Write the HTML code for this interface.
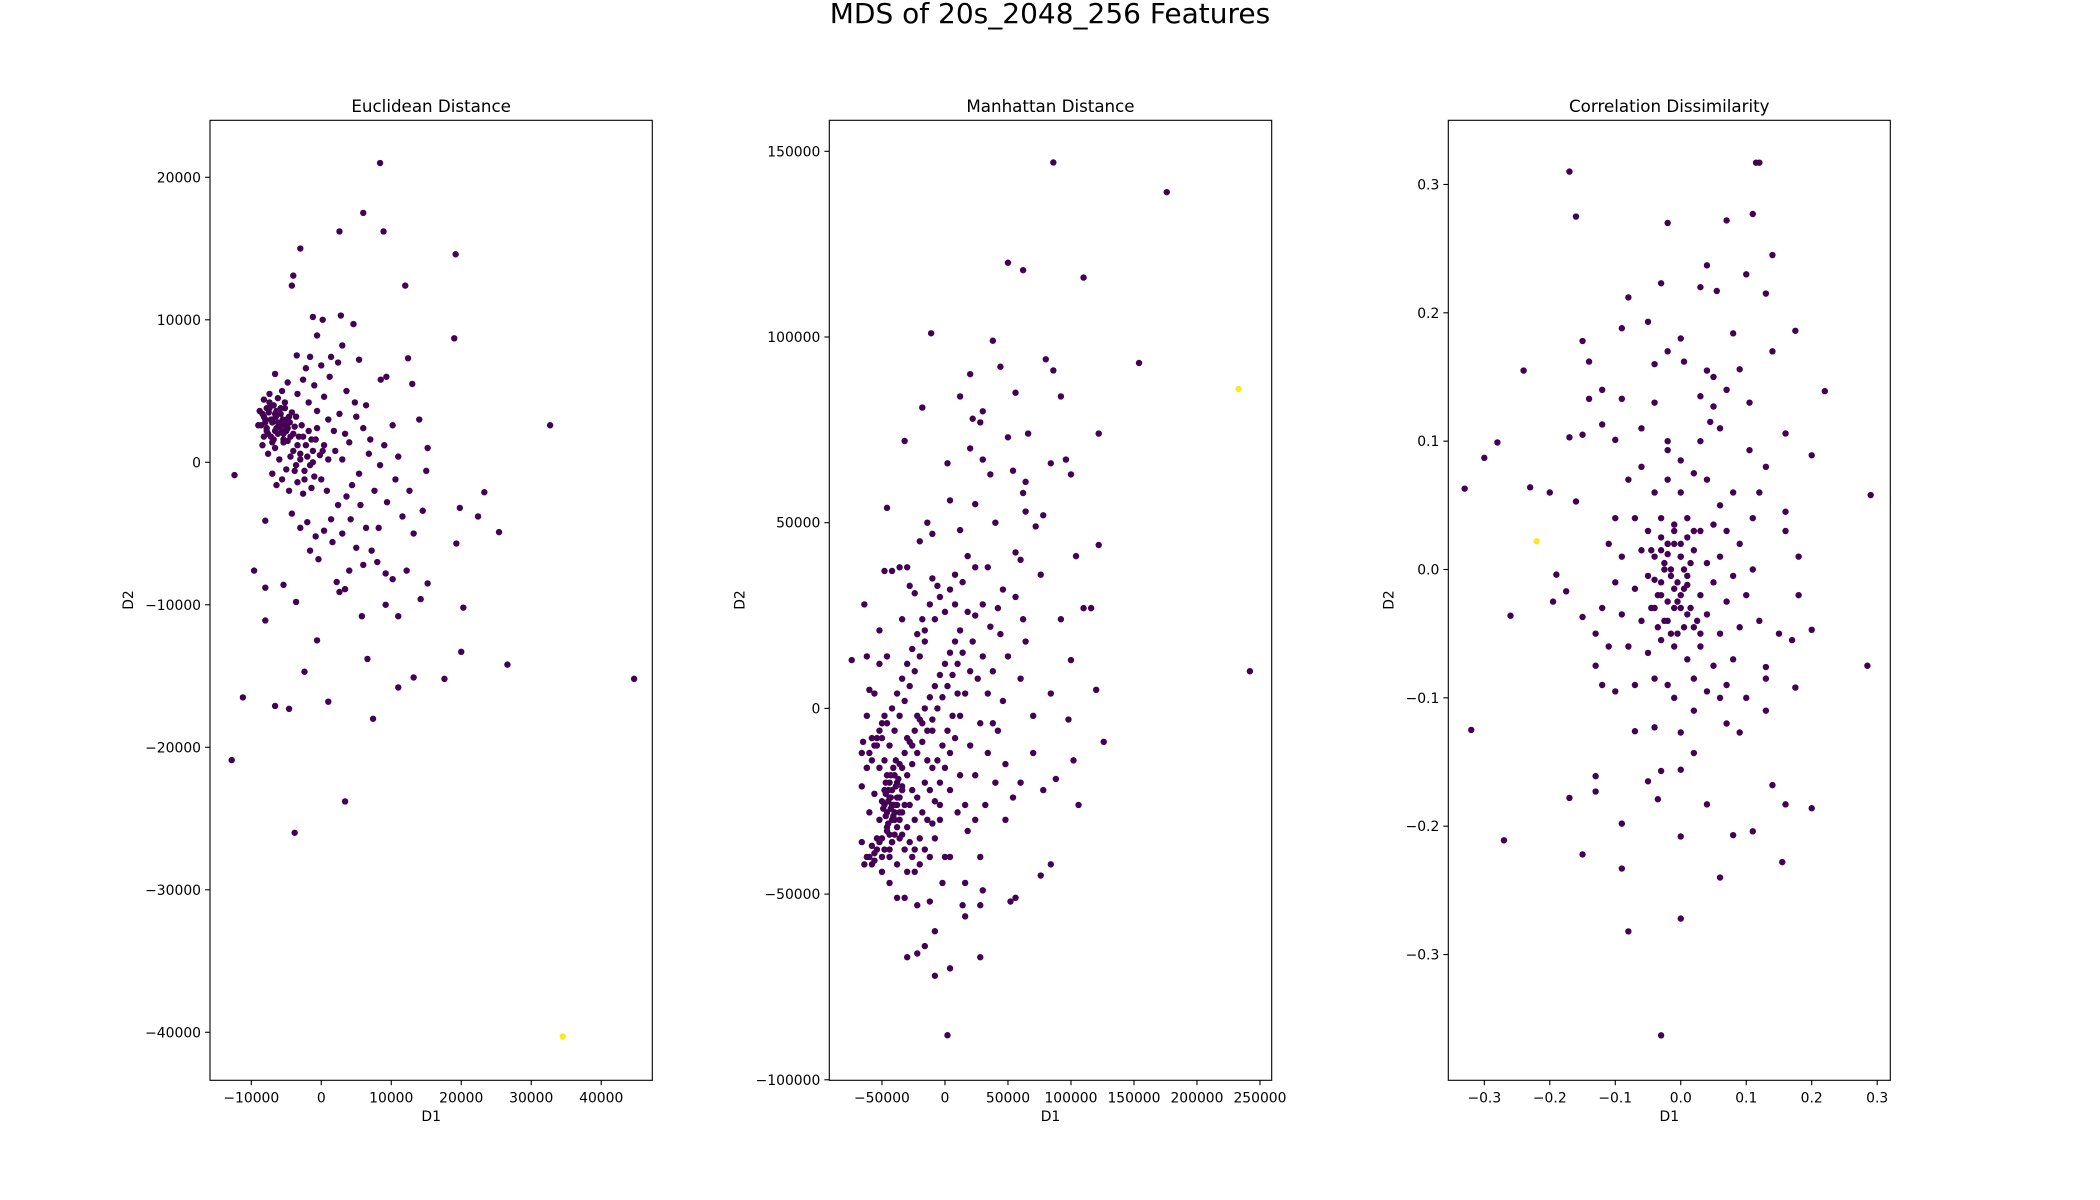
<!DOCTYPE html>
<html><head><meta charset="utf-8"><style>
html,body{margin:0;padding:0;background:#fff;}
svg{display:block;font-family:"DejaVu Sans","Liberation Sans",sans-serif;}
</style></head><body>
<svg id="fig" width="2100" height="1200" viewBox="0 0 2100 1200" xmlns="http://www.w3.org/2000/svg">
<rect width="2100" height="1200" fill="#fff"/>
<text x="1050" y="23" font-size="28" text-anchor="middle">MDS of 20s_2048_256 Features</text>
</svg>
<script>
// Euclidean (thousands)
const eucX=[8.4,6,2.6,8.9,-3,19.2,-4,-4.2,12,-1.2,2.8,0.2,4.6,-0.6,19,-3.5,-1.6,1.4,5.4,12.4,8.5,9.3,13,-6.6,32.7,14,15.2,11,15,-12.4,23.3,19.8,22.4,25.4,14.5,19.3,-8,-9.6,-8,-5.4,-3.6,9.2,10.2,12.2,14.2,15.2,20.3,-8,-0.6,3.4,2.6,9.2,11,5.8,20,26.6,44.7,6.6,-2.4,13.2,11,17.6,-11.2,-6.6,-4.6,1,7.4,-12.8,3.4,-3.8,
-8,-7.5,-7,-6.5,-6,-5.5,-5,-4.5,-4,-7.8,-7.2,-6.8,-6.2,-5.8,-5.2,-4.8,-4.2,-3.8,-3.2,-2.8,-2.2,-1.8,-1.2,-0.8,-0.2,0.4,1,-8.4,-7.6,-6.6,-6,-5.4,-5,-4.4,-3.6,-3,-2.4,-1.6,-1,-7,-6.4,-5.6,-4.6,-3.4,-2.6,-1.4,0,0.8,-5.6,-4.8,-3.4,-2.6,-1.8,-0.6,0.4,1,1.8,2.6,3.4,2,3,4,5,6,6.8,5.4,4.4,3.6,2.4,1.4,0.4,-0.8,-2,-3,-4.2,-1.6,-0.4,1.6,3,4.2,5.6,6.4,7.2,8.2,9.4,10.6,9,10.2,7.6,5,6,8,4,2.2,1.2,2.4,3.6,4.8,6.4,7,8.4,11.6,12.6,13.2,-2.2,-1,0,3,-8.8,-9,-8.2,-7.4,-6.4,-5.2,-4.4,-3.6,
-8.6,-8.2,-7.8,-7.4,-7,-6.6,-6.2,-5.8,-5.4,-5,-4.6,-8.4,-8,-7.6,-7.2,-6.8,-6.4,-6,-5.6,-5.2,-4.8,-8.2,-7.8,-7.4,-7,-6.6,-6.2,-5.8,-5.4,-5,-4,-3.4,-2.6,-2,-1.4,-0.6,0.2,-3.8,-3,-2.4,-1.2];
const eucY=[21,17.5,16.2,16.2,15,14.6,13.1,12.4,12.4,10.2,10.3,10,9.7,8.9,8.7,7.5,7.4,7.4,7.2,7.3,5.8,6,5.5,6.2,2.6,3,1,0.4,-0.6,-0.9,-2.1,-3.2,-3.8,-4.9,-3.4,-5.7,-4.1,-7.6,-8.8,-8.6,-9.8,-7.8,-8.2,-7.6,-9.6,-8.5,-10.2,-11.1,-12.5,-8.9,-9.1,-10,-10.8,-10.8,-13.3,-14.2,-15.2,-13.8,-14.7,-15.1,-15.8,-15.2,-16.5,-17.1,-17.3,-16.8,-18,-20.9,-23.8,-26,
3,3.5,2.8,3.2,2.5,3,2.2,2.8,2,2.2,1.8,4,4.5,3.8,4.2,1.5,3.5,2.5,1.8,2.6,1.2,2.2,0.8,1.6,0.5,1.2,0.2,1.2,0.6,1,0.2,1.4,-0.5,0.4,-0.2,0.6,-0.6,-0.2,-1,-0.8,-1.6,-1.2,-2,-1.4,-2.2,-1.8,-1.2,-2,5,5.6,4.8,5.8,4.2,3.6,4.6,3,2.2,3.4,2,0.8,0.2,1.4,3.2,2.4,0.6,-0.8,-1.6,-2.4,-3,-4,-4.8,-5.2,-4.2,-4.6,-3.6,-6.2,-6.8,-5.6,-5,-4,-3,-4.6,-6.2,-4.6,-2.8,-1.2,1.2,2.6,-2,-6,-7.2,-7,-7.6,-8.4,6,7,5,4.2,4,1.6,-0.2,-3.8,-2,-5,6.6,5.4,6.8,8.2,3.6,2.6,4.4,4.8,3.6,2.6,1.8,3.2,
2.6,3.2,2.4,3.8,3,2.2,2.8,3.4,2,2.6,3.2,3.4,2.8,2,3,1.6,2.4,3.6,2.2,3.8,2.4,1.8,3.8,4.2,1.4,3.4,2,2.6,1.6,3,0.8,1.2,1.8,0.4,1.6,2.4,0.8,-0.6,0.2,-1.2,0];
const eucYellowX=[34.5], eucYellowY=[-40.3];
// Manhattan (thousands)
const manX=[86,176,50,62,110,-11,38,154,80,20,44,86,56,92,12,-18,22,30,28,66,122,-32,50,20,30,96,84,100,54,2,36,64,62,4,24,78,-46,64,40,12,-14,72,-10,-20,122,56,18,104,60,34,-42,-36,-48,-30,24,8,76,-10,-6,46,-28,-24,-64,110,116,92,-34,-16,-52,62,42,24,-62,-74,-46,-52,-60,-56,-62,-58,-65,-66,-62,-66,-56,-60,-66,-62,-64,-50,-44,-38,-32,-22,-12,14,28,30,52,76,84,16,-2,4,28,-30,-22,-16,-8,4,-8,28,16,2,242,126,100,84,102,106,98,78,54,60,48,34,38,120,88,56,18,10,-4,0,-24,-10,
-50,-48,-46,-44,-42,-40,-38,-36,-34,-32,-30,-28,-26,-24,-22,-20,-18,-16,-14,-12,-10,-8,-6,-4,-2,0,2,4,6,8,10,12,14,-52,-50,-48,-46,-44,-42,-40,-38,-36,-34,-32,-30,-28,-26,-24,-22,-20,-18,-16,-14,-12,-10,-8,-6,-4,-2,0,2,4,6,8,10,12,-54,-52,-50,-48,-46,-44,-42,-40,-38,-36,-34,-32,-30,-28,-26,-24,-22,-20,-18,-16,-12,-8,-4,0,4,8,14,18,22,26,30,34,38,42,46,20,24,28,16,20,-46,-48,-44,-42,-40,-38,-36,-34,-32,-30,-28,-26,-24,-20,-16,-12,-8,-4,4,12,16,24,32,40,30,36,44,50,56,60,64,70,48,70,
-47,-45,-43,-41,-49,-47,-45,-43,-41,-39,-47,-45,-43,-41,-39,-37,-46,-44,-42,-40,-38,-36,-34,-44,-42,-40,-38,-36,-58,-56,-54,-60,-58,-56,-54,-52,-50,-62,-60,-58,-56,-54,-52,-50,-48,-34,-30,-26,-22,-18,-14,-10];
const manY=[147,139,120,118,116,101,99,93,94,90,92,91,85,84,84,81,78,80,77,74,74,72,73,70,67,67,66,63,64,66,63,61,58,56,55,52,54,53,50,48,50,49,47,45,44,42,41,41,40,38,37,38,37,38,38,36,36,35,33,32,33,31,28,27,27,24,24,21,21,24,27,25,14,13,14,12,5,4,-2,-8,-9,-12,-16,-21,-23,-28,-36,-40,-42,-44,-47,-51,-51,-53,-52,-53,-53,-49,-52,-45,-42,-47,-47,-40,-40,-67,-66,-64,-72,-70,-60,-67,-56,-88,10,-9,13,4,-14,-26,-3,-22,-24,-20,-15,-12,-4,5,-19,-51,-33,-28,-26,-40,-38,-31,
-25,-22,-28,-20,-26,-18,-24,-15,-21,-12,-18,-9,-15,-6,-12,-3,-9,0,-6,3,-3,6,0,9,3,12,6,15,9,18,12,21,15,-30,-35,-38,-33,-40,-36,-30,-42,-35,-28,-38,-32,-26,-40,-30,-24,-35,-28,-20,-30,-22,-16,-25,-14,-20,-10,-16,-6,-12,-2,-8,4,-2,-10,-16,-8,-14,-4,-10,0,-6,4,-2,8,2,12,6,16,10,20,14,24,18,28,24,30,26,32,28,34,26,18,8,14,4,10,-6,2,-10,-18,-4,4,10,-18,-26,-24,-22,-26,-20,-28,-34,-26,-44,-36,-22,-44,-42,-38,-40,-35,-30,-22,-18,-26,-30,-26,-20,28,22,20,14,30,8,18,-2,-30,-12,
-20,-22,-24,-26,-27,-29,-31,-18,-16,-14,-23,-25,-27,-29,-21,-19,-32,-34,-30,-28,-26,-24,-22,-38,-36,-34,-32,-30,-37,-39,-35,-40,-42,-41,-38,-36,-40,-16,-12,-14,-10,-8,-6,-4,-2,-16,-8,-10,-2,-4,-14,-6];
const manYellowX=[233], manYellowY=[86];
// Correlation
const corX=[-0.17,-0.16,-0.02,0.12,0.115,0.11,0.07,0.04,0.1,0.14,-0.03,-0.08,0.03,0.055,0.13,0.08,-0.05,-0.09,0.175,-0.15,0.0,-0.02,0.14,-0.14,0.005,-0.04,-0.24,0.04,0.05,0.09,-0.12,0.22,0.07,0.03,-0.09,0.105,-0.04,-0.14,-0.12,0.05,0.045,0.06,-0.17,-0.15,-0.1,0.16,-0.28,-0.3,0.2,-0.02,0.105,-0.33,-0.23,-0.2,0.29,-0.16,-0.19,-0.26,-0.175,-0.195,-0.15,-0.32,0.285,0.2,0.175,0.13,0.14,0.16,0.2,-0.13,-0.17,-0.13,-0.15,-0.27,-0.09,-0.09,-0.08,-0.03,0.0,0.06,0.155,0.11,0.08,0.0,0.04,-0.035,-0.05,-0.03,0.0,0.02,-0.07,-0.04,0.0,0.07,0.09,0.13,0.13,0.1,0.15,0.17,-0.13,-0.13,-0.12,-0.1,0.12,0.13,0.16,0.16,0.18,0.18,
-0.08,-0.06,-0.04,-0.02,0,0.02,0.04,0.06,0.08,-0.1,-0.07,-0.05,-0.03,-0.01,0.01,0.03,0.05,0.07,0.09,-0.09,-0.06,-0.04,-0.02,0,0.02,0.04,0.06,0.08,-0.1,-0.07,-0.05,-0.03,-0.01,0.01,0.03,0.05,0.07,0.1,-0.09,-0.06,-0.04,-0.02,0,0.02,0.04,0.06,0.09,-0.08,-0.05,-0.03,-0.01,0.01,0.03,0.05,0.08,-0.07,-0.04,-0.02,0.02,0.04,0.07,-0.11,-0.12,-0.11,0.11,0.12,0.11,-0.015,-0.025,-0.005,0.005,-0.035,0.015,-0.045,0.0,-0.02,0.03,-0.06,0.02,-0.01,0.06,
-0.03,-0.02,-0.01,0.0,0.01,0.02,-0.025,-0.015,-0.005,0.005,0.015,-0.03,-0.02,-0.01,0.0,0.01,-0.035,-0.025,-0.015,-0.005,0.005,-0.02,-0.01,0.0,0.01,-0.04,-0.03,0.025,0.03,-0.045];
const corY=[0.31,0.275,0.27,0.317,0.317,0.277,0.272,0.237,0.23,0.245,0.223,0.212,0.22,0.217,0.215,0.184,0.193,0.188,0.186,0.178,0.18,0.17,0.17,0.162,0.162,0.16,0.155,0.155,0.15,0.156,0.14,0.139,0.14,0.135,0.133,0.13,0.13,0.133,0.113,0.127,0.115,0.11,0.103,0.105,0.101,0.106,0.099,0.087,0.089,0.093,0.093,0.063,0.064,0.06,0.058,0.053,-0.004,-0.036,-0.017,-0.025,-0.037,-0.125,-0.075,-0.047,-0.092,-0.11,-0.168,-0.183,-0.186,-0.161,-0.178,-0.173,-0.222,-0.211,-0.198,-0.233,-0.282,-0.363,-0.272,-0.24,-0.228,-0.204,-0.207,-0.208,-0.183,-0.179,-0.165,-0.157,-0.156,-0.143,-0.126,-0.123,-0.127,-0.12,-0.127,-0.076,-0.085,-0.1,-0.05,-0.055,-0.05,-0.075,-0.09,-0.095,0.06,0.08,0.045,0.03,0.01,-0.02,
0.07,0.08,0.06,0.07,0.06,0.075,0.07,0.05,0.06,0.04,0.04,0.03,0.04,0.035,0.04,0.03,0.035,0.03,0.02,0.01,0.015,0.01,0.02,0.01,0.015,0.005,0.01,-0.005,-0.01,-0.015,-0.005,-0.01,-0.015,-0.005,-0.02,-0.01,-0.025,-0.02,-0.035,-0.04,-0.03,-0.04,-0.03,-0.045,-0.035,-0.05,-0.045,-0.06,-0.065,-0.055,-0.06,-0.07,-0.06,-0.075,-0.07,-0.09,-0.085,-0.09,-0.085,-0.095,-0.09,-0.06,-0.03,0.02,0.0,-0.04,0.04,-0.005,0.0,-0.025,-0.015,-0.02,-0.03,0.015,0.085,0.1,0.1,0.11,-0.11,-0.1,-0.1,
0.025,0.02,0.03,0.02,0.025,0.03,0.005,0.0,-0.01,0.0,0.005,-0.02,-0.025,-0.03,-0.02,-0.035,-0.045,-0.04,-0.05,-0.05,-0.045,0.012,0.02,0.01,-0.012,-0.008,0.015,-0.04,-0.05,-0.03];
const corYellowX=[-0.22], corYellowY=[0.022];
const eucXTicks=[-10000,0,10000,20000,30000,40000], eucYTicks=[-40000,-30000,-20000,-10000,0,10000,20000];
const manXTicks=[-50000,0,50000,100000,150000,200000,250000], manYTicks=[-100000,-50000,0,50000,100000,150000];
const corXTicks=[-0.3,-0.2,-0.1,0.0,0.1,0.2,0.3], corYTicks=[-0.3,-0.2,-0.1,0.0,0.1,0.2,0.3];

const NS='http://www.w3.org/2000/svg';
const svg=document.getElementById('fig');
function mk(tag,attrs,parent){const e=document.createElementNS(NS,tag);for(const k in attrs)e.setAttribute(k,attrs[k]);(parent||svg).appendChild(e);return e;}
const TOP=120.3,BOT=1080.3;
function panel(cfg){
  const g=mk('g',{});
  
  
  const sx=v=>cfg.l+(v-cfg.x0)/(cfg.x1-cfg.x0)*(cfg.r-cfg.l);
  const sy=v=>BOT-(v-cfg.y0)/(cfg.y1-cfg.y0)*(BOT-TOP);
  const t=mk('text',{x:(cfg.l+cfg.r)/2,y:112,'font-size':16.7,'text-anchor':'middle'},g);
  t.textContent=cfg.title;
  
  
  cfg.xt.forEach((v,i)=>{const x=sx(v);
    const tk=mk('line',{x1:x,x2:x,y1:BOT,y2:BOT+4.9,stroke:'#000','stroke-width':1.1},g);
    
    
    const lb=mk('text',{x:x,y:BOT+22,'font-size':13.9,'text-anchor':'middle'},g);
    lb.textContent=cfg.xl[i];
    
    });
  cfg.yt.forEach((v,i)=>{const y=sy(v);
    const tk=mk('line',{x1:cfg.l-4.9,x2:cfg.l,y1:y,y2:y,stroke:'#000','stroke-width':1.1},g);
    
    
    const lb=mk('text',{x:cfg.l-9,y:y+5,'font-size':13.9,'text-anchor':'end'},g);
    lb.textContent=cfg.yl[i];
    
    });
  const xl=mk('text',{x:(cfg.l+cfg.r)/2,y:1121,'font-size':13.9,'text-anchor':'middle'},g);
  xl.textContent='D1';
  
  
  const yx=cfg.l-cfg.yoff;
  const yl=mk('text',{x:yx,y:600,'font-size':13.9,'text-anchor':'middle',transform:`rotate(-90 ${yx} 600)`},g);
  yl.textContent='D2';
  
  
  cfg.X.forEach((v,i)=>{const c=mk('circle',{cx:sx(v*cfg.k),cy:sy(cfg.Y[i]*cfg.k),r:3.2,fill:'#440154'},g);
    
    });
  cfg.YX.forEach((v,i)=>{const c=mk('circle',{cx:sx(v*cfg.k),cy:sy(cfg.YY[i]*cfg.k),r:3.2,fill:'#fde725'},g);
    
    });
  const fr=mk('rect',{x:cfg.l,y:TOP,width:cfg.r-cfg.l,height:BOT-TOP,fill:'none',stroke:'#000','stroke-width':1.1},g);
  
  
}
const fmt=v=>(v<0?'\u2212':'')+Math.abs(v);
const fmt1=v=>(v<0?'\u2212':'')+Math.abs(v).toFixed(1);
panel({name:'euclidean-panel',title:'Euclidean Distance',l:210,r:652.3,x0:-15900,x1:47300,y0:-43370,y1:24000,xt:eucXTicks,xl:eucXTicks.map(fmt),yt:eucYTicks,yl:eucYTicks.map(fmt),X:eucX,Y:eucY,YX:eucYellowX,YY:eucYellowY,k:1000,yoff:77});
panel({name:'manhattan-panel',title:'Manhattan Distance',l:829.3,r:1271.7,x0:-91800,x1:259300,y0:-100140,y1:158350,xt:manXTicks,xl:manXTicks.map(fmt),yt:manYTicks,yl:manYTicks.map(fmt),X:manX,Y:manY,YX:manYellowX,YY:manYellowY,k:1000,yoff:85});
panel({name:'correlation-panel',title:'Correlation Dissimilarity',l:1448.3,r:1890.3,x0:-0.355,x1:0.320,y0:-0.398,y1:0.350,xt:corXTicks,xl:corXTicks.map(fmt1),yt:corYTicks,yl:corYTicks.map(fmt1),X:corX,Y:corY,YX:corYellowX,YY:corYellowY,k:1,yoff:55});
</script>
</body></html>
